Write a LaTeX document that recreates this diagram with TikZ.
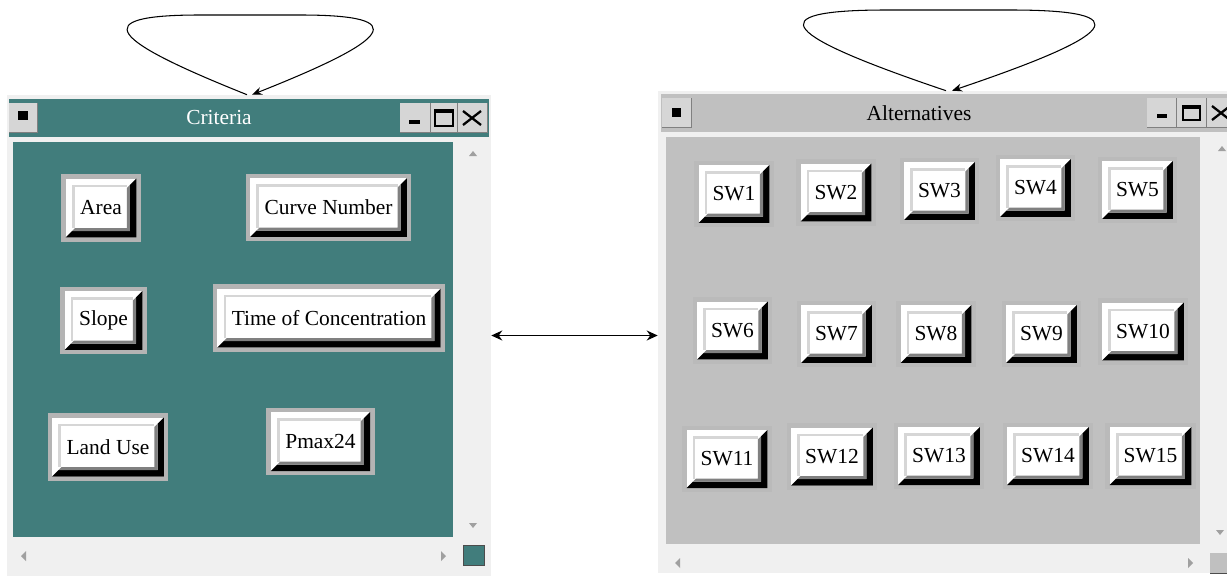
\documentclass[tikz,border=0pt]{standalone}
\usepackage{fontspec}
\setmainfont{Liberation Serif}
\usetikzlibrary{arrows.meta}
\definecolor{critteal}{RGB}{65,125,124}
\definecolor{altgray}{RGB}{192,192,192}
\definecolor{winface}{RGB}{240,240,240}
\definecolor{barface}{RGB}{214,214,214}
\definecolor{btnframe}{RGB}{180,180,180}
\definecolor{altframe}{RGB}{186,186,186}
\definecolor{btnline}{RGB}{214,214,214}
\definecolor{btnshade}{RGB}{128,128,128}
\definecolor{arrgray}{RGB}{160,160,160}

\begin{document}
\begin{tikzpicture}[x=0.02cm,y=-0.02cm]
\tikzstyle{every node}+=[inner sep=0pt]
\tikzstyle{tile}=[fill=white, inner xsep=0.29cm, minimum height=1.18cm,
  font=\fontsize{12.2}{14}\selectfont,
  path picture={
    \coordinate (pa) at (path picture bounding box.south west);
    \coordinate (pb) at (path picture bounding box.north east);
    \coordinate (pc) at (pa -| pb);
    \fill[black] (pb) -- (pc) -- (pa) -- ([shift={(3.6pt,3.6pt)}]pa) -- ([shift={(-3.6pt,3.6pt)}]pc) -- ([shift={(-3.6pt,-3.6pt)}]pb) -- cycle;
    \fill[btnshade] ([shift={(-3.6pt,-3.6pt)}]pb) -- ([shift={(-3.6pt,3.6pt)}]pc) -- ([shift={(3.6pt,3.6pt)}]pa) -- ([shift={(5.4pt,5.4pt)}]pa) -- ([shift={(-5.4pt,5.4pt)}]pc) -- ([shift={(-5.4pt,-5.4pt)}]pb) -- cycle;
    \draw[btnline, line width=1.5pt] ([shift={(4.3pt,5.4pt)}]pa) |- ([shift={(-5.4pt,-4.3pt)}]pb);
  }]
\tikzstyle{crittile}=[tile, preaction={draw=btnframe, line width=5pt}]
\tikzstyle{alttile}=[tile, minimum height=1.16cm, inner xsep=0.28cm, preaction={draw=altframe, line width=5pt}]
\tikzstyle{wintitle}=[font=\fontsize{12.2}{14}\selectfont]
\tikzstyle{loopline}=[line width=0.6pt, -{Stealth[length=2mm,width=1.6mm]}]
\clip (0,0) rectangle (1227,578);
\fill[white] (0,0) rectangle (1227,578);

% Criteria window
\node[fill=winface, minimum width=9.68cm, minimum height=9.62cm] (critwin) at (249,335.5) {};
\fill[critteal] (9,99) rectangle (489,137);
\fill[critteal] (13,142) rectangle (453,537);
\fill[barface] (9,103) rectangle (37,132);
\draw[btnshade] (9,132) -- (37,132) -- (37,103);
\fill[black] (18,111) rectangle (28,120);
\fill[barface] (400,103) rectangle (487,132);
\draw[btnshade] (400,132) -- (487,132) -- (487,103);
\draw[btnshade] (430,103) -- (430,132) (457,103) -- (457,132);
\fill[black] (409,120) rectangle (420,124);
\draw[line width=1pt] (435,110) rectangle (453,126);
\fill[black] (435,110) rectangle (453,113);
\draw[line width=1.3pt] (463,111) -- (481,125) (463,125) -- (481,111);
\node[wintitle, text=white] (crittitle) at (219,118) {Criteria};
\fill[arrgray] (469,156) -- (477,156) -- (473,151) -- cycle;
\fill[arrgray] (469,523) -- (477,523) -- (473,528) -- cycle;
\fill[arrgray] (26,551) -- (26,561) -- (21,556) -- cycle;
\fill[arrgray] (441,551) -- (441,561) -- (446,556) -- cycle;
\filldraw[fill=critteal, draw=black!70] (463,545) rectangle (484,565);

\node[crittile] (area) at (101,208) {Area};
\node[crittile] (curvenum) at (328.5,207.5) {Curve Number};
\node[crittile] (slope) at (103.5,320.5) {Slope};
\node[crittile] (tconc) at (329,318) {Time of Concentration};
\node[crittile] (landuse) at (108,447) {Land Use};
\node[crittile] (pmax) at (320.5,441.5) {Pmax24};

% Alternatives window
\node[fill=winface, minimum width=11.64cm, minimum height=9.64cm] (altwin) at (949,332) {};
\fill[altgray] (661,94) rectangle (1240,132);
\fill[altgray] (666,137) rectangle (1200,544);
\fill[barface] (662,98) rectangle (691,127);
\draw[btnshade] (662,127) -- (691,127) -- (691,98);
\fill[black] (672,108) rectangle (681,117);
\fill[barface] (1147,98) rectangle (1240,127);
\draw[btnshade] (1147,127) -- (1240,127);
\draw[btnshade] (1176,98) -- (1176,127) (1206,98) -- (1206,127);
\fill[black] (1157,114) rectangle (1167,118);
\draw[line width=1pt] (1183,106) rectangle (1200,120);
\fill[black] (1183,106) rectangle (1200,109);
\draw[line width=1.3pt] (1212,106) -- (1230,120) (1212,120) -- (1230,106);
\node[wintitle] (alttitle) at (919,113) {Alternatives};
\fill[arrgray] (1218,151) -- (1226,151) -- (1222,146) -- cycle;
\fill[arrgray] (1216,530) -- (1224,530) -- (1220,535) -- cycle;
\fill[arrgray] (680,558) -- (680,568) -- (675,563) -- cycle;
\fill[arrgray] (1188,558) -- (1188,568) -- (1193,563) -- cycle;
\fill[altgray] (1210,553) rectangle (1240,573);
\draw[black!70] (1210,573) -- (1240,573);

\node[alttile] (sw1) at (734,194) {SW1};
\node[alttile] (sw2) at (836,192.5) {SW2};
\node[alttile] (sw3) at (939.5,191) {SW3};
\node[alttile] (sw4) at (1035.5,188) {SW4};
\node[alttile] (sw5) at (1137.5,190) {SW5};
\node[alttile] (sw6) at (732.5,330.5) {SW6};
\node[alttile] (sw7) at (836.5,334) {SW7};
\node[alttile] (sw8) at (936,334) {SW8};
\node[alttile] (sw9) at (1041.5,334) {SW9};
\node[alttile] (sw10) at (1143,331.5) {SW10};
\node[alttile] (sw11) at (727,459) {SW11};
\node[alttile] (sw12) at (832,456.5) {SW12};
\node[alttile] (sw13) at (939,456) {SW13};
\node[alttile] (sw14) at (1048,456) {SW14};
\node[alttile] (sw15) at (1150.5,456) {SW15};

% links
\draw[loopline] ([xshift=-0.04cm]critwin.north) .. controls (110,40) and (85,15) .. (200,15) -- (300,15) .. controls (415,15) and (390,40) .. ([xshift=0.06cm]critwin.north);
\draw[loopline] ([xshift=-0.06cm]altwin.north) .. controls (784,36) and (754,10) .. (887,10) -- (1010,10) .. controls (1144,10) and (1114,36) .. ([xshift=0.06cm]altwin.north);
\draw[line width=0.8pt, {Stealth[length=2.2mm,width=2mm]}-{Stealth[length=2.2mm,width=2mm]}] (critwin.east) -- (critwin.east -| altwin.west);
\end{tikzpicture}
\end{document}
